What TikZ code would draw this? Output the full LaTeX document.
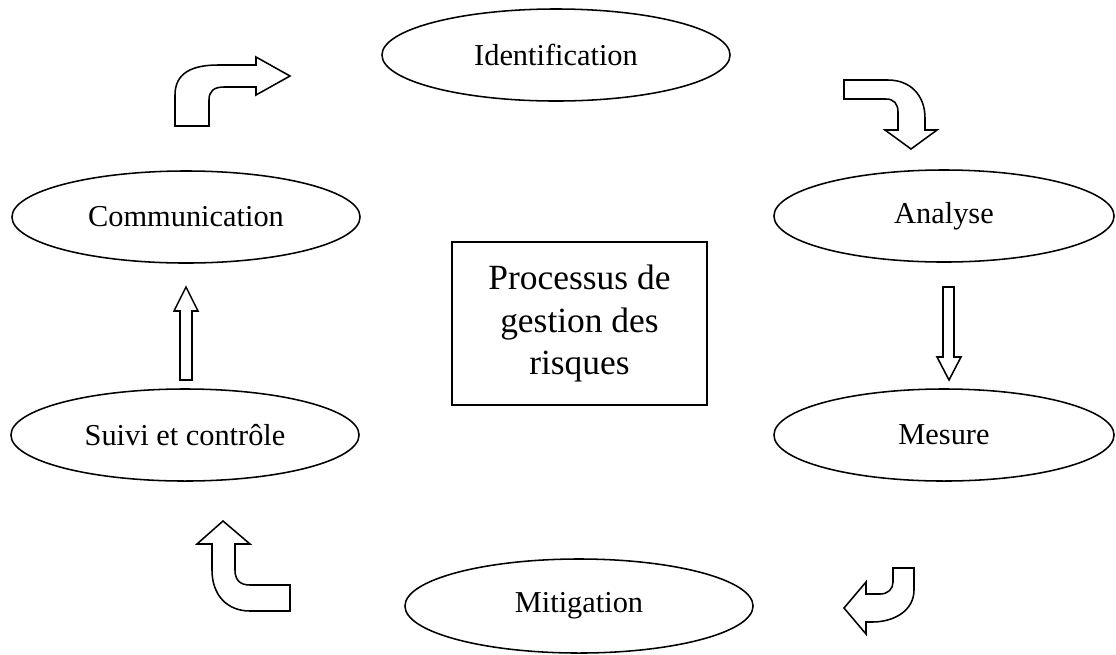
\documentclass[tikz,border=0pt]{standalone}
\usepackage{fontspec}
\setmainfont{Liberation Serif}
\usepackage{tikz}
\usetikzlibrary{shapes,positioning}

\begin{document}
\begin{tikzpicture}[
    x=0.025cm, y=-0.025cm,
    stage/.style={ellipse, draw, line width=1.1pt, inner sep=0pt, minimum width=8.7cm, minimum height=2.3cm, font=\fontsize{21.6}{26}\selectfont},
    centre/.style={rectangle, draw, line width=1.1pt, align=center, minimum width=6.375cm, minimum height=4.075cm, font=\fontsize{25.2}{29.9}\selectfont},
    blockarrow/.style={draw, line width=1.1pt, line join=miter, fill=white}
]
    \useasboundingbox (0,0) rectangle (1116,654);

    % --- Centre ---
    \node [centre] (processus) at (579.5,323.5) {Processus de\\ gestion des\\ risques};

    % --- Stages of the cycle ---
    \node [stage] (ident) at (556,55) {Identification};
    \node [stage, minimum width=8.5cm] (analyse) at (944,216) {Analyse};
    \node [stage, minimum width=8.5cm] (mesure) at (944,435) {Mesure};
    \node [stage, minimum height=2.35cm] (mitig) at (579,606) {Mitigation};
    \node [stage] (suivi) at (185,435) {Suivi et contrôle};
    \node [stage] (comm) at (186,217) {Communication};

    % Block arrows
    % Communication -> Identification
    \draw [blockarrow] (175,126) -- (175,95) .. controls (175,73) and (192,65) .. (218,65) -- (256,65) -- (256,57) -- (290,76) -- (256,95) -- (256,87) -- (224,87) .. controls (214,87) and (209,91) .. (209,100) -- (209,126) -- cycle;
    % Identification -> Analyse
    \draw [blockarrow] (844,80) -- (888,80) .. controls (910,80) and (925,95) .. (925,118) -- (925,130) -- (937,130) -- (911,149) -- (885,130) -- (898,130) -- (898,112) .. controls (898,104) and (894,99) .. (886,99) -- (844,99) -- cycle;
    % Analyse -> Mesure
    \draw [blockarrow] (943,287) -- (954,287) -- (954,357) -- (961,357) -- (949,380) -- (937,357) -- (943,357) -- cycle;
    % Mesure -> Mitigation
    \draw [blockarrow] (893,568) -- (914,568) -- (914,590) .. controls (914,610) and (895,622) .. (872,622) -- (866,622) -- (866,634) -- (844,608) -- (866,582) -- (866,594) -- (880,594) .. controls (888,594) and (893,589) .. (893,582) -- cycle;
    % Mitigation -> Suivi et controle
    \draw [blockarrow] (290,585) -- (290,611) -- (250,611) .. controls (227,611) and (212,595) .. (212,570) -- (212,544) -- (197,544) -- (223,521) -- (250,544) -- (235,544) -- (235,570) .. controls (235,580) and (240,585) .. (250,585) -- cycle;
    % Suivi et controle -> Communication
    \draw [blockarrow] (180,380) -- (180,311) -- (174,311) -- (186,287) -- (198,311) -- (192,311) -- (192,380) -- cycle;

\end{tikzpicture}
\end{document}
